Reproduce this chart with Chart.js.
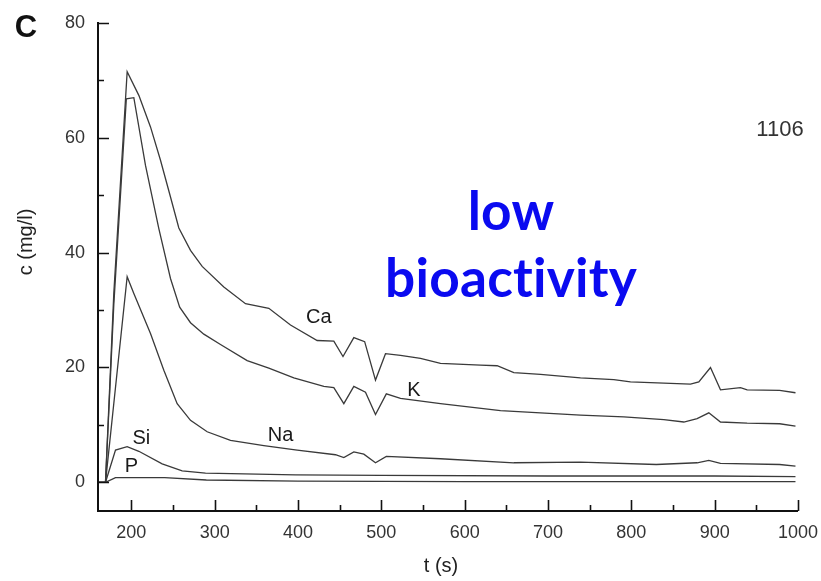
<!DOCTYPE html>
<html><head><meta charset="utf-8">
<script src="https://cdn.jsdelivr.net/npm/chart.js@4.4.1/dist/chart.umd.min.js"></script>
<style>html,body{margin:0;padding:0;background:#fff;overflow:hidden}#wrap{width:821px;height:581px;position:relative}</style>
</head><body><div id="wrap"><canvas id="c" width="821" height="581"></canvas></div>
<script>
// ---- data ----
const tCa = [161,169,179,195,209,223,235,247,257,271,285,311,337,365,391,423,443,454,467,480,493,505,523,547,571,619,639,659,691,739,779,799,871,881,895,907,931,939,978,997];
const cCa = [0,0,33,71.5,67.4,61.9,56.1,49.7,44.3,40.4,37.6,34.0,31.1,30.3,27.4,24.7,24.6,21.9,25.2,24.5,17.8,22.4,22.1,21.6,20.7,20.4,20.3,19.1,18.8,18.2,17.9,17.5,17.1,17.5,20.0,16.1,16.5,16.1,16.0,15.6];

const tK = [161,169,179,194,203,217,233,247,258,271,287,307,339,365,395,431,443,455,467,481,493,506,523,571,643,739,791,839,863,879,893,907,939,978,997];
const cK = [0,0,31,66.8,67.0,55.2,44.2,35.5,30.5,27.8,25.8,24.0,21.2,19.9,18.2,16.7,16.5,13.7,16.7,15.7,11.8,15.4,14.6,13.7,12.5,11.7,11.4,10.9,10.5,11.1,12.1,10.5,10.3,10.2,9.8];

const tNa = [161,169,195,203,223,239,255,271,291,319,359,399,445,455,467,479,493,506,571,659,739,830,879,893,907,978,997];
const cNa = [0,0,35.8,32.9,25.9,19.5,13.7,10.8,8.8,7.3,6.4,5.6,4.8,4.3,5.3,4.9,3.4,4.5,4.1,3.4,3.5,3.1,3.4,3.8,3.3,3.1,2.8];

const tSi = [161,169,181,195,209,237,261,289,397,500,700,900,997];
const cSi = [0,0,5.6,6.2,5.4,3.2,2.0,1.6,1.3,1.2,1.1,1.1,1.0];

const tP = [161,169,181,240,290,400,600,997];
const cP = [0,0,0.8,0.8,0.4,0.2,0.1,0.1];

const xTickLabels = [200,300,400,500,600,700,800,900,1000];
const yTickLabels = [0,20,40,60,80];

const seriesNames = ['Ca','K','Na','Si','P'];
// label anchor points in data units (t, c)
const labelAt = {Ca:[425,28.7], K:[539,16.0], Na:[379,8.2], Si:[212,7.7], P:[200,2.8]};

const series = {Ca:[tCa,cCa], K:[tK,cK], Na:[tNa,cNa], Si:[tSi,cSi], P:[tP,cP]};
const toXY = (ts, cs) => ts.map((t,i)=>({x:t, y:cs[i]}));

const FONT = "'Liberation Sans', Arial, sans-serif";
const BLUEFONT = "Lato, 'Liberation Sans', sans-serif";

const deco = {
  id:'deco',
  afterDraw(chart){
    const {ctx, scales:{x,y}, chartArea:a} = chart;
    ctx.save();
    ctx.strokeStyle = '#111'; ctx.lineWidth = 1.6;
    ctx.beginPath();
    for (let v = 200; v <= 1000; v += 50) {
      const px = Math.round(x.getPixelForValue(v)) + 0.5;
      const len = v % 100 === 0 ? 11 : 6;
      ctx.moveTo(px, a.bottom); ctx.lineTo(px, a.bottom - len);
    }
    for (let v = 0; v <= 80; v += 10) {
      const py = Math.round(y.getPixelForValue(v)) + 0.5;
      const len = v % 20 === 0 ? 11 : 6;
      ctx.moveTo(a.left, py); ctx.lineTo(a.left + len, py);
    }
    ctx.stroke();

    // curve labels
    ctx.fillStyle = '#1a1a1a';
    ctx.font = '20px ' + FONT;
    ctx.textAlign = 'center'; ctx.textBaseline = 'middle';
    seriesNames.forEach(n => {
      const [t,c] = labelAt[n];
      ctx.fillText(n, x.getPixelForValue(t), y.getPixelForValue(c));
    });

    // panel letter
    ctx.font = 'bold 31px ' + FONT;
    ctx.fillStyle = '#111';
    ctx.fillText('C', 26, 28);

    // sample id
    ctx.font = '22px ' + FONT;
    ctx.fillStyle = '#333';
    ctx.fillText('1106', 780, 130);

    // axis titles
    ctx.font = '20px ' + FONT;
    ctx.fillStyle = '#222';
    ctx.fillText('t (s)', 441, 566);
    ctx.save();
    ctx.translate(26, 242); ctx.rotate(-Math.PI/2);
    ctx.fillText('c (mg/l)', 0, 0);
    ctx.restore();

    // blue annotation
    if ('letterSpacing' in ctx) ctx.letterSpacing = '0.2px';
    let fs = 50;
    ctx.font = 'bold ' + fs + 'px ' + BLUEFONT;
    fs = fs * 252 / ctx.measureText('bioactivity').width;
    ctx.font = 'bold ' + fs.toFixed(1) + 'px ' + BLUEFONT;
    ctx.fillStyle = '#0a0af0';
    ctx.textBaseline = 'alphabetic';
    ctx.fillText('low', 511, 230);
    ctx.fillText('bioactivity', 511, 297);
    ctx.restore();
  }
};

new Chart(document.getElementById('c'), {
  type: 'line',
  data: {
    datasets: seriesNames.map(n => ({
      label: n,
      data: toXY(series[n][0], series[n][1]),
      borderColor: '#3a3a3a',
      borderWidth: 1.3,
      pointRadius: 0,
      tension: 0,
      fill: false
    }))
  },
  options: {
    responsive: false,
    devicePixelRatio: 1,
    animation: false,
    layout: { padding: { top: 23, right: 23, left: 0, bottom: 0 } },
    plugins: { legend: { display: false }, tooltip: { enabled: false } },
    scales: {
      x: {
        type: 'linear', min: 160, max: 1000,
        grid: { display: false },
        border: { display: true, color: '#111', width: 2 },
        afterBuildTicks: s => { s.ticks = xTickLabels.map(v => ({value: v})); },
        afterFit: s => { s.height = 70; },
        ticks: { color: '#333', font: { family: FONT, size: 18 }, padding: 3, maxRotation: 0, autoSkip: false,
                 callback: v => String(v) }
      },
      y: {
        type: 'linear', min: -5, max: 80,
        grid: { display: false },
        border: { display: true, color: '#111', width: 2 },
        afterBuildTicks: s => { s.ticks = yTickLabels.map(v => ({value: v})); },
        afterFit: s => { s.width = 98; },
        ticks: { color: '#333', font: { family: FONT, size: 18 }, padding: 5, callback: v => String(v) }
      }
    }
  },
  plugins: [deco]
});
</script></body></html>
